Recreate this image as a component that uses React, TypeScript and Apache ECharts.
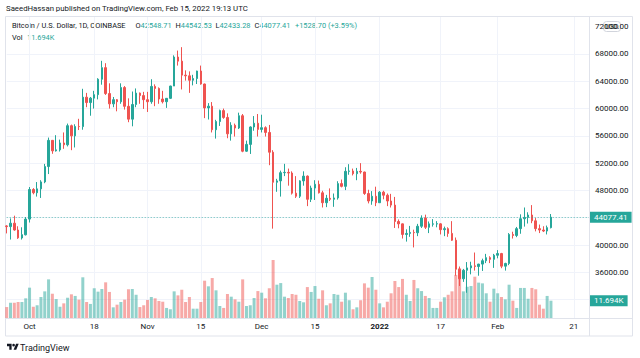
import React, { useEffect, useRef } from 'react';
import * as echarts from 'echarts';

// ---------- DATA ----------
const FIRST_DAY = { y: 2021, m: 8, d: 25 }; // 2021-09-25 (month is 0-based)
const AXIS_DAYS = 154; // time axis shows room up to late February

// [open, close, low, high]
const OHLC: number[][] = [
  [42800, 42700, 41700, 42900], // Sep 25
  [42700, 43200, 40800, 43900], // Sep 26
  [43200, 42200, 42100, 44300], // Sep 27
  [42200, 41050, 40900, 42750], // Sep 28
  [41030, 41520, 40800, 42600], // Sep 29
  [41500, 43800, 41400, 44100], // Sep 30
  [43800, 48140, 43300, 48500], // Oct 1
  [48140, 47660, 47430, 48340], // Oct 2
  [47660, 48230, 47100, 49230], // Oct 3
  [48230, 49250, 46900, 49500], // Oct 4
  [49250, 51500, 49060, 51890], // Oct 5
  [51500, 55340, 50400, 55750], // Oct 6
  [55340, 53800, 53370, 55400], // Oct 7
  [53800, 53950, 53700, 56100], // Oct 8
  [53950, 54960, 53700, 55450], // Oct 9
  [54960, 54690, 54100, 56500], // Oct 10
  [54690, 57490, 54450, 57800], // Oct 11
  [57490, 56000, 53900, 57650], // Oct 12
  [56000, 57370, 54300, 57700], // Oct 13
  [57370, 57360, 56850, 58500], // Oct 14
  [57360, 61670, 56900, 62900], // Oct 15
  [61670, 60880, 60200, 62300], // Oct 16
  [60880, 61530, 58950, 61700], // Oct 17
  [61530, 62040, 60000, 62600], // Oct 18
  [62040, 64300, 61350, 64450], // Oct 19
  [64300, 66000, 63500, 67000], // Oct 20
  [66000, 62200, 62000, 66650], // Oct 21
  [62200, 60690, 60000, 63700], // Oct 22
  [60690, 61300, 60200, 61700], // Oct 23
  [61300, 61000, 59600, 61400], // Oct 24
  [61000, 63080, 60700, 63700], // Oct 25
  [63080, 60330, 59850, 63300], // Oct 26
  [60330, 58450, 58000, 61500], // Oct 27
  [58450, 60600, 57400, 62500], // Oct 28
  [60600, 62270, 60200, 62950], // Oct 29
  [62270, 61900, 60700, 62350], // Oct 30
  [61900, 61300, 59950, 62450], // Oct 31
  [61300, 61000, 59500, 62450], // Nov 1
  [61000, 63250, 60700, 64300], // Nov 2
  [63250, 62950, 60350, 63550], // Nov 3
  [62950, 61400, 60700, 63100], // Nov 4
  [61400, 61000, 60750, 62600], // Nov 5
  [61000, 61500, 60100, 61550], // Nov 6
  [61500, 63300, 61400, 63350], // Nov 7
  [63300, 67550, 63300, 67800], // Nov 8
  [67550, 66950, 66300, 68500], // Nov 9
  [66950, 64900, 62800, 69000], // Nov 10
  [64900, 64800, 64100, 65600], // Nov 11
  [64800, 64150, 62300, 65450], // Nov 12
  [64150, 64400, 63400, 64950], // Nov 13
  [64400, 65500, 63600, 65550], // Nov 14
  [65500, 63600, 63500, 66300], // Nov 15
  [63600, 60100, 58600, 63650], // Nov 16
  [60100, 60350, 58400, 60800], // Nov 17
  [60350, 56900, 56500, 60950], // Nov 18
  [56900, 58100, 55600, 58350], // Nov 19
  [58100, 59700, 57450, 59850], // Nov 20
  [59700, 58700, 58500, 60000], // Nov 21
  [58700, 56300, 55650, 59300], // Nov 22
  [56300, 57550, 55300, 58000], // Nov 23
  [57550, 57150, 55900, 57800], // Nov 24
  [57150, 58950, 57000, 59400], // Nov 25
  [58950, 53750, 53600, 59200], // Nov 26
  [53750, 54750, 53650, 55300], // Nov 27
  [54750, 57300, 53350, 57400], // Nov 28
  [57300, 57850, 56750, 58900], // Nov 29
  [57850, 56950, 55900, 59200], // Nov 30
  [56950, 57200, 56500, 59100], // Dec 1
  [57200, 56500, 55900, 57400], // Dec 2
  [56500, 53600, 51700, 57600], // Dec 3
  [53600, 49200, 42400, 53900], // Dec 4
  [49200, 49400, 47800, 49700], // Dec 5
  [49400, 50600, 47100, 50900], // Dec 6
  [50600, 50650, 50100, 51900], // Dec 7
  [50650, 50550, 48700, 51200], // Dec 8
  [50550, 47600, 47400, 50800], // Dec 9
  [47600, 47150, 46900, 50100], // Dec 10
  [47150, 49400, 46900, 49500], // Dec 11
  [49400, 50100, 48700, 50800], // Dec 12
  [50100, 46700, 45700, 50200], // Dec 13
  [46700, 48350, 46300, 48700], // Dec 14
  [48350, 48900, 46600, 49500], // Dec 15
  [48900, 47650, 47550, 49450], // Dec 16
  [47650, 46200, 45500, 47950], // Dec 17
  [46200, 46850, 45550, 47350], // Dec 18
  [46850, 46700, 46450, 48300], // Dec 19
  [46700, 46900, 45600, 47550], // Dec 20
  [46900, 49000, 46650, 49350], // Dec 21
  [49000, 48600, 48450, 49600], // Dec 22
  [48600, 50800, 48050, 51400], // Dec 23
  [50800, 50850, 50300, 51850], // Dec 24
  [50850, 50450, 50200, 51200], // Dec 25
  [50450, 50800, 49500, 51300], // Dec 26
  [50800, 50700, 50450, 52000], // Dec 27
  [50700, 47550, 47350, 50750], // Dec 28
  [47550, 46450, 46100, 48100], // Dec 29
  [46450, 47150, 45900, 47900], // Dec 30
  [47150, 46200, 45700, 48550], // Dec 31
  [46200, 47750, 46200, 47900], // Jan 1
  [47750, 47300, 46700, 47950], // Jan 2
  [47300, 46450, 45700, 47550], // Jan 3
  [46450, 45850, 45500, 47500], // Jan 4
  [45850, 43450, 42500, 47050], // Jan 5
  [43450, 43100, 42450, 43750], // Jan 6
  [43100, 41550, 40950, 43150], // Jan 7
  [41550, 41700, 40500, 42300], // Jan 8
  [41700, 41850, 41200, 42800], // Jan 9
  [41850, 41800, 39650, 42250], // Jan 10
  [41800, 42750, 41300, 43100], // Jan 11
  [42750, 43950, 42500, 44350], // Jan 12
  [43950, 42600, 42350, 44450], // Jan 13
  [42600, 43100, 41750, 43450], // Jan 14
  [43050, 43100, 42700, 43800], // Jan 15
  [43080, 43120, 42600, 43500], // Jan 16
  [43100, 42250, 41550, 43200], // Jan 17
  [42250, 42400, 41300, 42700], // Jan 18
  [42400, 41700, 41200, 42600], // Jan 19
  [41700, 40700, 40600, 43500], // Jan 20
  [40700, 36450, 35500, 41100], // Jan 21
  [36450, 35050, 34000, 36850], // Jan 22
  [35050, 36300, 34600, 36500], // Jan 23
  [36300, 36650, 33000, 37500], // Jan 24
  [36650, 36950, 35700, 37550], // Jan 25
  [36950, 36850, 36250, 38900], // Jan 26
  [36850, 37200, 35500, 37250], // Jan 27
  [37200, 37700, 36200, 38000], // Jan 28
  [37700, 38150, 37350, 38700], // Jan 29
  [38150, 37900, 37350, 38350], // Jan 30
  [37900, 38500, 36650, 38700], // Jan 31
  [38500, 38750, 38050, 39250], // Feb 1
  [38750, 36900, 36600, 38850], // Feb 2
  [36900, 37300, 36250, 37400], // Feb 3
  [37300, 41550, 37050, 41750], // Feb 4
  [41550, 41400, 40950, 41950], // Feb 5
  [41400, 42400, 41150, 42650], // Feb 6
  [42400, 43850, 41650, 44500], // Feb 7
  [43850, 44050, 42700, 45500], // Feb 8
  [44050, 44400, 43150, 44800], // Feb 9
  [44400, 43550, 43200, 45850], // Feb 10
  [43550, 42400, 42000, 43950], // Feb 11
  [42400, 42200, 41750, 43000], // Feb 12
  [42200, 42050, 41900, 42750], // Feb 13
  [42050, 42548.71, 41550, 42850], // Feb 14
  [42548.71, 44077.41, 42433.28, 44542.53], // Feb 15
];

// Volume in thousands of BTC
const VOLUME_K: number[] = [
  7.4, 10.3, 10.3, 10.8, 10.8, 13.3, 20.5, 7.6, 8.6, 14.2,
  18.0, 26.1, 16.4, 12.8, 7.6, 9.9, 13.7, 16.0, 14.9, 12.4,
  27.5, 10.8, 9.5, 20.1, 17.8, 19.6, 24.1, 17.6, 7.2, 9.0,
  10.8, 12.4, 19.4, 19.6, 15.7, 7.4, 8.6, 12.2, 14.2, 13.3,
  11.5, 11.0, 6.8, 5.9, 18.0, 15.3, 19.1, 10.8, 14.2, 6.3,
  6.3, 10.8, 25.2, 21.4, 27.0, 18.7, 8.1, 6.8, 16.2, 14.4,
  12.6, 11.0, 26.1, 8.1, 8.6, 13.5, 18.2, 17.1, 13.3, 20.1,
  39.2, 22.5, 23.6, 14.4, 13.5, 16.2, 15.7, 11.5, 10.6, 20.9,
  17.6, 21.6, 13.0, 18.7, 8.6, 9.9, 16.2, 15.7, 11.0, 17.1,
  12.0, 5.9, 7.2, 12.0, 23.4, 20.5, 27.7, 19.1, 9.9, 7.2,
  11.0, 16.7, 25.0, 20.9, 26.4, 15.7, 11.5, 25.7, 20.1, 18.2,
  14.9, 13.5, 6.8, 6.8, 11.0, 14.0, 15.7, 18.0, 29.1, 33.6,
  18.0, 21.1, 21.6, 27.9, 23.9, 23.4, 16.7, 11.0, 19.8, 16.7,
  14.2, 12.6, 22.5, 11.7, 6.8, 20.3, 20.3, 13.0, 20.3, 19.4,
  9.0, 6.3, 14.9, 11.694,
];

// time-axis tick labels
const TICK_DATES = ['2021-10-01', '2021-10-18', '2021-11-01', '2021-11-15', '2021-12-01', '2021-12-15', '2022-01-01', '2022-01-17', '2022-02-01', '2022-02-21'];
const TICK_TEXTS = ['Oct', '18', 'Nov', '15', 'Dec', '15', '2022', '17', 'Feb', '21'];

// price axis
const PRICE_MIN = 32000;
const PRICE_MAX = 72000;
const PRICE_STEP = 4000;
const HIDDEN_PRICE_LABELS = [44000, 32000];

const TITLE = 'SaeedHassan published on TradingView.com, Feb 15, 2022 19:13 UTC';
const SYMBOL = 'Bitcoin / U.S. Dollar, 1D, COINBASE';

// ---------- STYLE ----------
const UP = '#26a69a';
const DOWN = '#ef5350';
const UP_VOL = 'rgba(38,166,154,0.5)';
const DOWN_VOL = 'rgba(239,83,80,0.5)';
const TEXT = '#131722';
const GRID = '#f0f3fa';
const BORDER = '#e0e3eb';
const FONT = 'Roboto, sans-serif';
const LEGEND_FS = 7.4;

const TV_LOGO = 'M14 22H7V11H0V4h14v18zM28 22h-8l7.5-18h8L28 22zM24 8a4 4 0 1 1-8 0a4 4 0 1 1 8 0z';

let registered = false;
function registerLogo() {
  if (registered) return;
  registered = true;
  echarts.graphic.registerShape('tvlogo', echarts.graphic.extendPath(TV_LOGO, {}) as any);
}

function buildDates(): string[] {
  const out: string[] = [];
  for (let i = 0; i < AXIS_DAYS; i++) {
    const d = new Date(Date.UTC(FIRST_DAY.y, FIRST_DAY.m, FIRST_DAY.d + i));
    out.push(d.toISOString().slice(0, 10));
  }
  return out;
}

function legendPart(x: number, y: number, key: string, val: string) {
  return {
    type: 'text', x, y,
    style: {
      text: key && val ? `{k|${key}}{v|${val}}` : key ? `{k|${key}}` : `{v|${val}}`,
      verticalAlign: 'middle', fontSize: LEGEND_FS, fontFamily: FONT,
      rich: {
        k: { fill: TEXT, fontSize: LEGEND_FS, fontFamily: FONT },
        v: { fill: UP, fontSize: LEGEND_FS, fontFamily: FONT },
      },
    },
  };
}

export default function App() {
  const ref = useRef<HTMLDivElement>(null);
  useEffect(() => {
    registerLogo();
    const chart = echarts.init(ref.current!, undefined, { renderer: 'svg' });
    const dates = buildDates();
    const tickMap: Record<string, string> = {};
    TICK_DATES.forEach((d, i) => (tickMap[d] = TICK_TEXTS[i]));
    const isTick = (_: number, v: string) => v in tickMap;

    const last = OHLC[OHLC.length - 1];
    const prevClose = OHLC[OHLC.length - 2][1];
    const change = last[1] - prevClose;
    const pct = (change / prevClose) * 100;
    const lastVol = VOLUME_K[VOLUME_K.length - 1];

    const volData = VOLUME_K.map((v, i) => ({
      value: v,
      itemStyle: { color: OHLC[i][1] >= OHLC[i][0] ? UP_VOL : DOWN_VOL },
    }));

    const L = 6.7;
    const R = 51;

    chart.setOption({
      animation: false,
      backgroundColor: '#ffffff',
      textStyle: { fontFamily: FONT },
      grid: [
        { left: L, right: R, top: 26.7, bottom: 358 - 299.6 },
        { left: L, right: R, top: 17, bottom: 40 },
      ],
      xAxis: [
        {
          type: 'category', gridIndex: 0, data: dates, boundaryGap: false, show: false,
        },
        {
          type: 'category', gridIndex: 1, data: dates, boundaryGap: false,
          axisLine: { show: false }, axisTick: { show: false },
          axisLabel: {
            interval: isTick,
            formatter: (v: string) => (tickMap[v] === '2022' ? '{b|2022}' : tickMap[v] || ''),
            color: TEXT, fontSize: 8, margin: 4, fontFamily: FONT,
            rich: { b: { fontWeight: 'bold', fontSize: 8, color: TEXT, fontFamily: FONT } },
          },
          splitLine: { show: true, interval: isTick, lineStyle: { color: GRID, width: 1 } },
        },
      ],
      yAxis: [
        {
          type: 'value', gridIndex: 0, position: 'right', min: PRICE_MIN, max: PRICE_MAX, interval: PRICE_STEP,
          axisLine: { show: false }, axisTick: { show: false },
          axisLabel: {
            margin: 6, color: TEXT, fontSize: 8, fontFamily: FONT,
            formatter: (v: number) => (HIDDEN_PRICE_LABELS.includes(v) ? '' : v.toFixed(2)),
          },
          splitLine: { show: true, showMaxLine: false, lineStyle: { color: GRID, width: 1 } },
        },
        {
          type: 'value', gridIndex: 1, min: 0, max: 301 / 1.48, show: false,
          splitLine: { show: false },
        },
      ],
      series: [
        {
          type: 'bar', name: 'Vol', xAxisIndex: 1, yAxisIndex: 1, data: volData, barWidth: 3,
          markLine: {
            silent: true, symbol: ['none', 'none'],
            lineStyle: { color: 'rgba(0,0,0,0)', width: 0 },
            label: {
              show: true, position: 'end', distance: 1, formatter: lastVol.toFixed(3) + 'K',
              color: '#fff', backgroundColor: UP, padding: [2, 4, 1, 4], fontSize: 8, fontFamily: FONT, opacity: 1,
            },
            data: [{ yAxis: lastVol }],
          },
        },
        {
          type: 'candlestick', xAxisIndex: 0, yAxisIndex: 0, data: OHLC, barWidth: 2,
          itemStyle: { color: UP, color0: DOWN, borderColor: UP, borderColor0: DOWN, borderWidth: 1 },
          markLine: {
            silent: true, symbol: ['none', 'none'],
            lineStyle: { color: 'rgba(38,166,154,0.7)', type: [1, 2], width: 1 },
            label: {
              show: true, position: 'end', distance: 1, formatter: last[1].toFixed(2),
              color: '#fff', backgroundColor: UP, padding: [2, 4, 1, 4], fontSize: 8, fontFamily: FONT,
            },
            data: [{ yAxis: last[1] }],
          },
        },
      ],
      graphic: [
        { type: 'rect', shape: { x: 5.5, y: 16.5, width: 627, height: 319.5 }, style: { fill: 'none', stroke: BORDER, lineWidth: 1 }, silent: true },
        { type: 'line', shape: { x1: 589.5, y1: 17, x2: 589.5, y2: 336 }, style: { stroke: BORDER, lineWidth: 1 }, silent: true },
        { type: 'line', shape: { x1: 5, y1: 318.5, x2: 633, y2: 318.5 }, style: { stroke: BORDER, lineWidth: 1 }, silent: true },
        {
          type: 'text', x: 6, y: 8,
          style: { text: TITLE, fill: TEXT, fontSize: 7.8, fontFamily: FONT, verticalAlign: 'middle' },
        },
        {
          type: 'text', x: 12, y: 25,
          style: { text: SYMBOL, fill: TEXT, fontSize: LEGEND_FS, fontFamily: FONT, verticalAlign: 'middle' },
        },
        legendPart(135.5, 25, 'O', last[0].toFixed(2)),
        legendPart(175.5, 25, 'H', last[3].toFixed(2)),
        legendPart(215.5, 25, 'L', last[2].toFixed(2)),
        legendPart(254.5, 25, 'C', last[1].toFixed(2)),
        legendPart(295, 25, '', `+${change.toFixed(2)} (+${pct.toFixed(2)}%)`),
        legendPart(12, 37, 'Vol', ''),
        legendPart(27, 37, '', `${lastVol.toFixed(3)}K`),
        {
          type: 'group', children: [
            { type: 'rect', shape: { x: 603.5, y: 21.5, width: 17, height: 10, r: 3 }, style: { fill: '#fff', stroke: '#d1d4dc', lineWidth: 1 } },
            { type: 'text', x: 612, y: 26.8, style: { text: 'USD', fill: TEXT, fontSize: 7, fontFamily: FONT, align: 'center', verticalAlign: 'middle' } },
          ],
        },
        { type: 'tvlogo', x: 7, y: 342.5, scaleX: 0.33, scaleY: 0.33, style: { fill: TEXT } },
        {
          type: 'text', x: 20, y: 347.5,
          style: { text: 'TradingView', fill: TEXT, fontSize: 9, fontFamily: FONT, verticalAlign: 'middle' },
        },
      ],
    });
    return () => chart.dispose();
  }, []);
  return <div ref={ref} style={{ position: 'fixed', left: 0, top: 0, width: 640, height: 358, background: '#fff' }} />;
}
